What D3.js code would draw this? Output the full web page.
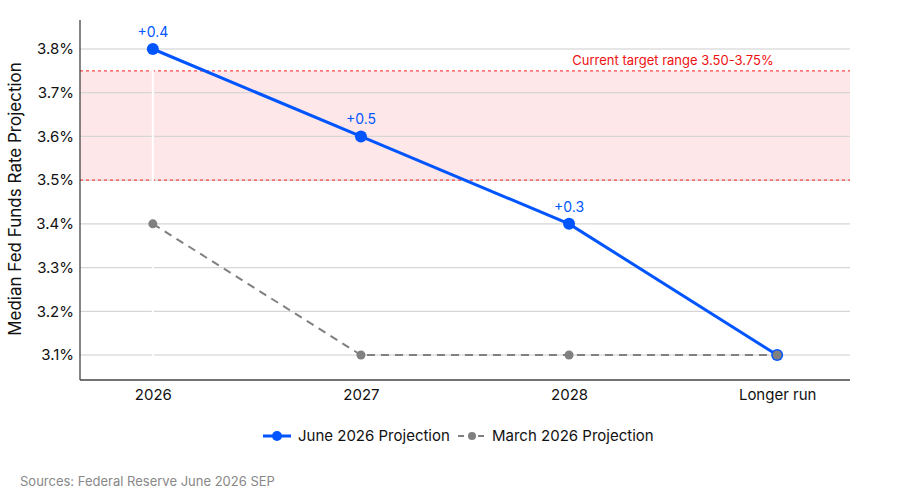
<!DOCTYPE html>
<html><head><meta charset="utf-8">
<script src="https://cdn.jsdelivr.net/npm/d3@7"></script>
<style>body{margin:0;background:#fff}svg{display:block;font-family:Inter,"Noto Sans",sans-serif}</style>
</head><body><svg id="c" width="900" height="500"></svg>
<script>
const categories = ["2026", "2027", "2028", "Longer run"];
const juneValues = [3.8, 3.6, 3.4, 3.1];
const marchValues = [3.4, 3.1, 3.1, 3.1];
const changeLabels = ["+0.4", "+0.5", "+0.3", null];
const yTicks = [3.1, 3.2, 3.3, 3.4, 3.5, 3.6, 3.7, 3.8];
const targetRange = [3.5, 3.75];
const seriesNames = ["June 2026 Projection", "March 2026 Projection"];

const svg = d3.select("#c");
const L = 80, R = 850, T = 20, B = 380;
const x = d3.scalePoint().domain(categories).range([L, R]).padding(0.35);
const y = d3.scaleLinear().domain([3.1, 3.8]).range([355, 49]);

// band
svg.append("rect").attr("x", L).attr("width", R - L)
  .attr("y", y(targetRange[1])).attr("height", y(targetRange[0]) - y(targetRange[1]))
  .attr("fill", "#fde7e9");

// gridlines
svg.append("g").selectAll("line").data(yTicks).join("line")
  .attr("x1", L).attr("x2", R).attr("y1", d => y(d)).attr("y2", d => y(d))
  .attr("stroke", d => (d === 3.8 || d === 3.1) ? "#e6e6e6" : "#d6d6d6")
  .attr("stroke-width", d => (d === 3.8 || d === 3.1) ? 2 : 1.2);

// band borders
svg.append("g").selectAll("line").data(targetRange).join("line")
  .attr("x1", L).attr("x2", R).attr("y1", d => y(d)).attr("y2", d => y(d))
  .attr("stroke", "#ff4444").attr("stroke-width", 1.3).attr("stroke-dasharray", "3,3");

svg.append("text").attr("x", 673).attr("y", y(targetRange[1]) - 6)
  .attr("text-anchor", "middle").attr("fill", "#ee1111").attr("font-size", 13)
  .text("Current target range 3.50-3.75%");

// white vertical at first category
svg.append("line").attr("x1", x(categories[0])).attr("x2", x(categories[0]))
  .attr("y1", y(3.8)).attr("y2", y(3.1) + 3).attr("stroke", "#fff").attr("stroke-width", 2);

// axes
const yAxis = svg.append("g").attr("transform", `translate(${L},0)`)
  .call(d3.axisLeft(y).tickValues(yTicks).tickSize(0).tickPadding(6).tickFormat(d => d3.format(".1f")(d) + "%"));
yAxis.select(".domain").remove();
yAxis.selectAll("text").attr("font-size", 15).attr("fill", "#111").attr("font-family", "Inter, sans-serif");
svg.append("line").attr("x1", L).attr("x2", L).attr("y1", T).attr("y2", B).attr("stroke", "#444").attr("stroke-width", 1.3);

const xAxis = svg.append("g").attr("transform", `translate(0,${B})`)
  .call(d3.axisBottom(x).tickSize(0).tickPadding(9));
xAxis.select(".domain").remove();
xAxis.selectAll("text").attr("font-size", 15).attr("fill", "#111").attr("font-family", "Inter, sans-serif");
svg.append("line").attr("x1", L).attr("x2", R).attr("y1", B).attr("y2", B).attr("stroke", "#444").attr("stroke-width", 1.3);

svg.append("text").attr("transform", "translate(21,199) rotate(-90)")
  .attr("text-anchor", "middle").attr("font-size", 17).attr("fill", "#111")
  .text("Median Fed Funds Rate Projection");

// June series
const line = d3.line().x((d, i) => x(categories[i])).y(d => y(d));
svg.append("path").datum(juneValues).attr("d", line)
  .attr("fill", "none").attr("stroke", "#0055ff").attr("stroke-width", 3);
svg.append("g").selectAll("circle").data(juneValues).join("circle")
  .attr("cx", (d, i) => x(categories[i])).attr("cy", d => y(d)).attr("r", 6).attr("fill", "#0055ff");
svg.append("g").selectAll("text").data(juneValues).join("text")
  .attr("x", (d, i) => x(categories[i])).attr("y", d => y(d) - 12)
  .attr("text-anchor", "middle").attr("font-size", 14).attr("fill", "#0055ff")
  .text((d, i) => changeLabels[i] || "");

// March series
svg.append("path").datum(marchValues).attr("d", line)
  .attr("fill", "none").attr("stroke", "#808080").attr("stroke-width", 2).attr("stroke-dasharray", "8,6");
svg.append("g").selectAll("circle").data(marchValues).join("circle")
  .attr("cx", (d, i) => x(categories[i])).attr("cy", d => y(d)).attr("r", 4.5).attr("fill", "#808080");

// legend
const lg = svg.append("g").attr("transform", "translate(0,436)");
lg.append("line").attr("x1", 263).attr("x2", 291).attr("stroke", "#0055ff").attr("stroke-width", 3);
lg.append("circle").attr("cx", 277).attr("r", 5).attr("fill", "#0055ff");
lg.append("text").attr("x", 298).attr("y", 5).attr("font-size", 15).attr("fill", "#111").text(seriesNames[0]);
lg.append("line").attr("x1", 458).attr("x2", 484).attr("stroke", "#808080").attr("stroke-width", 2).attr("stroke-dasharray", "6,4");
lg.append("circle").attr("cx", 472).attr("r", 4).attr("fill", "#808080");
lg.append("text").attr("x", 492).attr("y", 5).attr("font-size", 15).attr("fill", "#111").text(seriesNames[1]);

svg.append("text").attr("x", 20).attr("y", 486).attr("font-size", 13).attr("fill", "#888")
  .text("Sources: Federal Reserve June 2026 SEP");
</script></body></html>
